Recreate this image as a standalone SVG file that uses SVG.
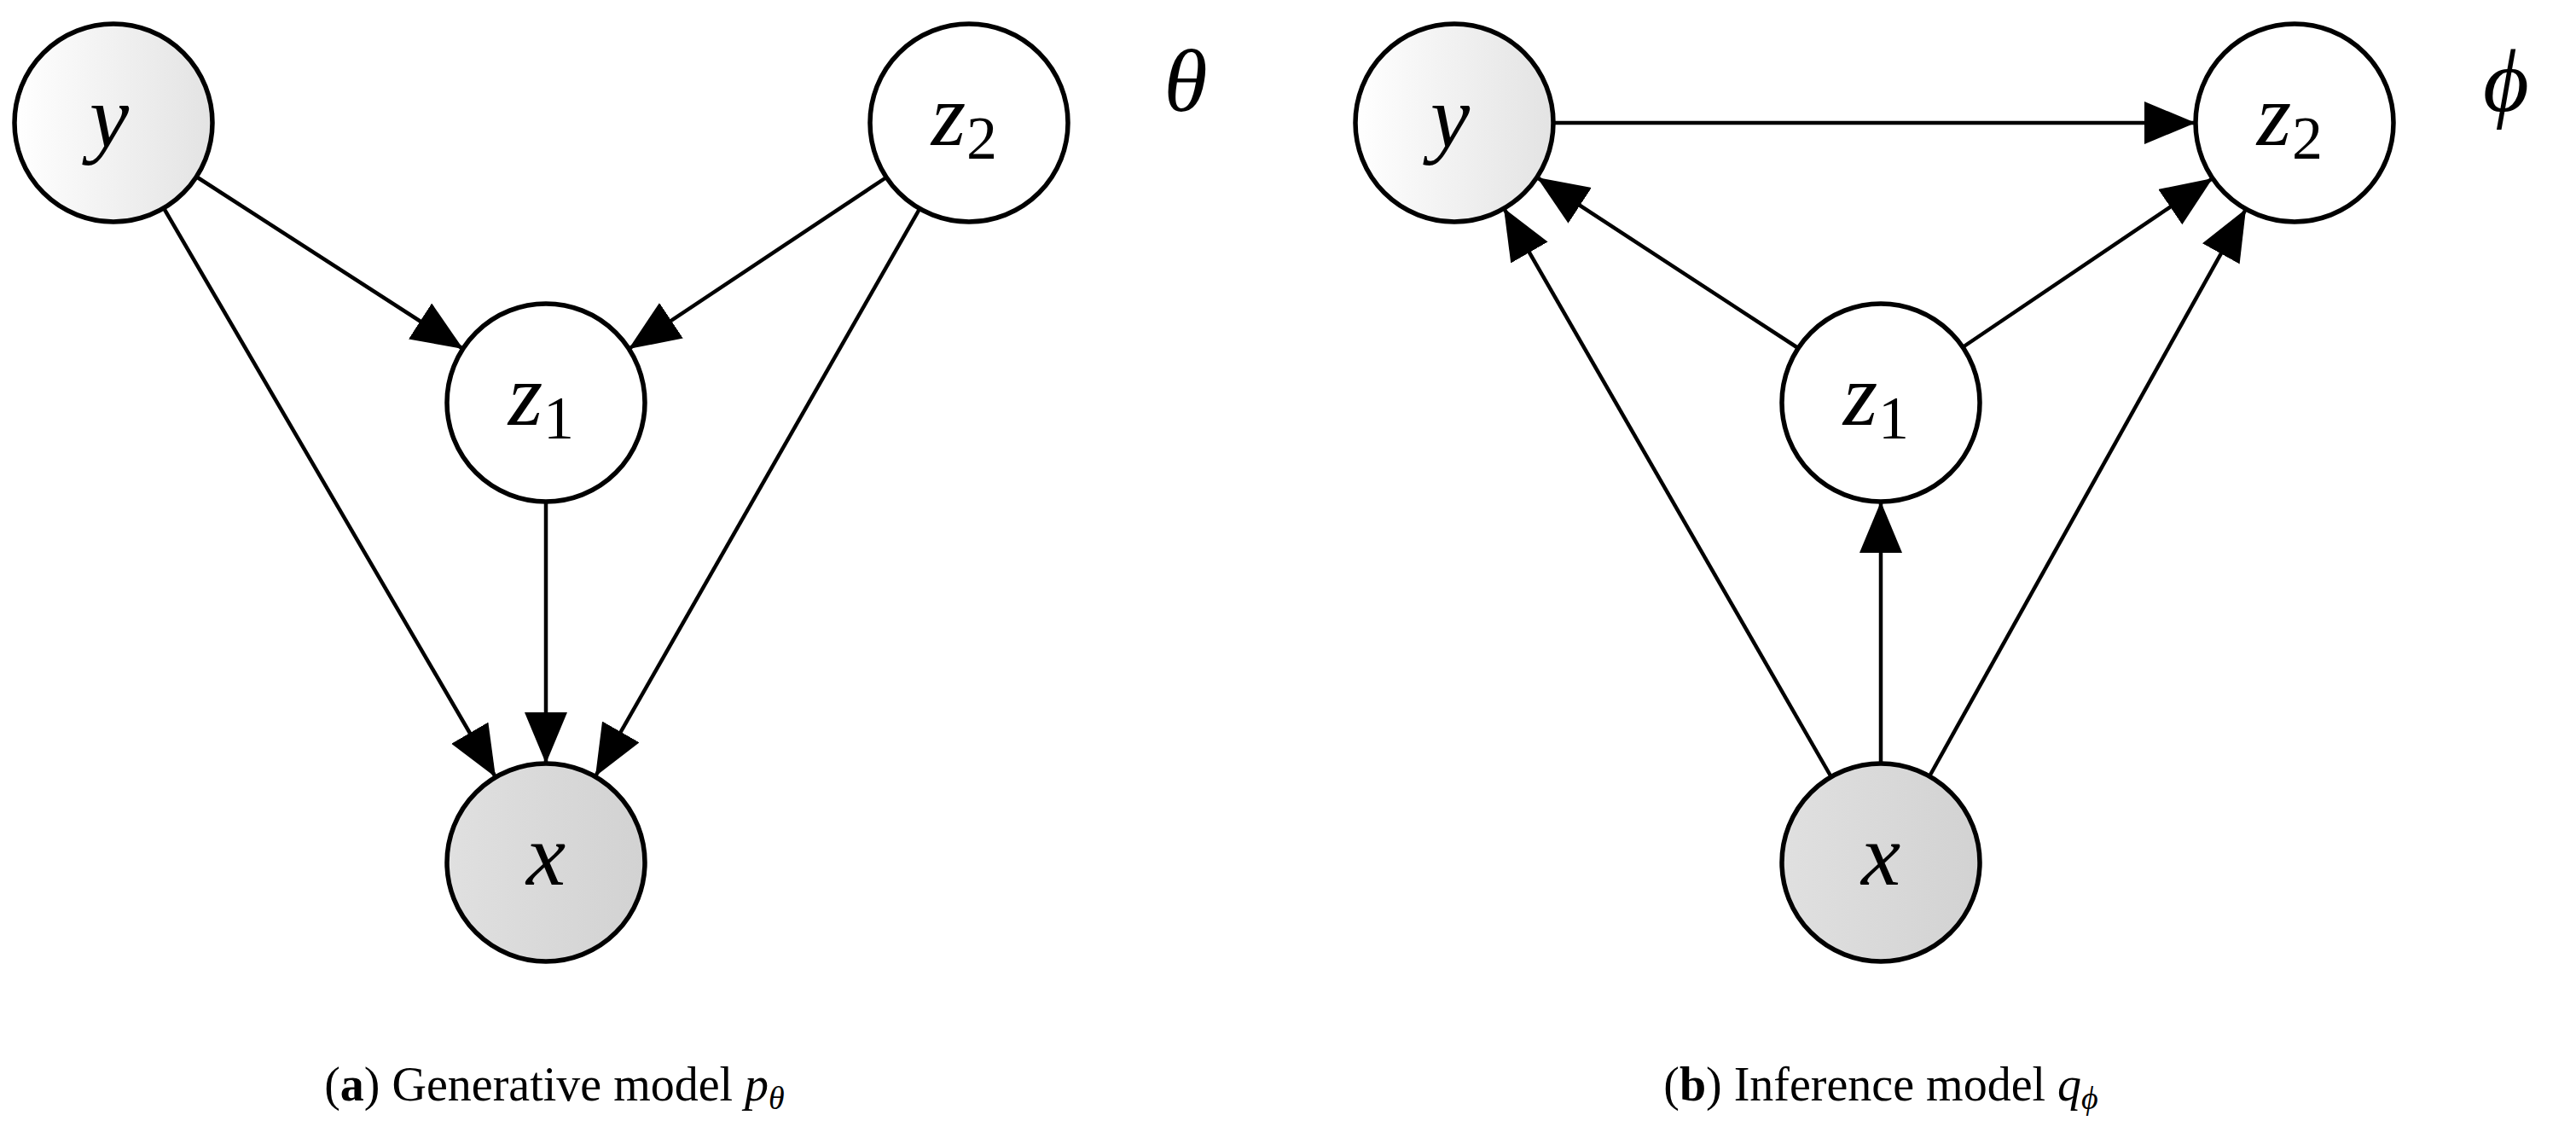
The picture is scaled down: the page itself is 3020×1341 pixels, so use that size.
<svg xmlns="http://www.w3.org/2000/svg" width="3020" height="1341" viewBox="0 0 3020 1341">
<style>
.n{stroke:#000;stroke-width:5.5}
.e{stroke:#000;stroke-width:4.5;fill:none;marker-end:url(#ah)}
.l{font-family:"Liberation Serif","DejaVu Serif",serif;font-style:italic;font-size:104px;text-anchor:middle}
.s{font-family:"Liberation Serif","DejaVu Serif",serif;font-size:72px}
.c{font-family:"Liberation Serif","DejaVu Serif",serif;font-size:56px;text-anchor:middle}
</style>
<defs>
<marker id="ah" markerUnits="userSpaceOnUse" markerWidth="64" markerHeight="54" refX="60" refY="25" orient="auto"><path d="M0,0 L60,25 L0,50 Z" fill="#000"/></marker>
<linearGradient id="gy" x1="0" x2="1"><stop offset="0" stop-color="#fff"/><stop offset="1" stop-color="#e3e3e3"/></linearGradient>
<linearGradient id="gx" x1="0" x2="1"><stop offset="0" stop-color="#e0e0e0"/><stop offset="1" stop-color="#d2d2d2"/></linearGradient>
</defs>
<g id="connectors">
<path class="e" d="M230,207 L543,409"/>
<path class="e" d="M1039,208 L737,409"/>
<path class="e" d="M192,244 L581,911"/>
<path class="e" d="M1078,245 L698,910"/>
<path class="e" d="M640,588 L640,895"/>
<path class="e" d="M1821,144 L2574,144"/>
<path class="e" d="M2108,408 L1802,208"/>
<path class="e" d="M2301,407 L2594,209"/>
<path class="e" d="M2147,911 L1763,244"/>
<path class="e" d="M2262,910 L2633,245"/>
<path class="e" d="M2205,895 L2205,588"/>
</g>
<g id="a_y"><circle class="n" cx="133" cy="144" r="116" fill="url(#gy)"/><text class="l" x="128" y="172">y</text></g>
<g id="a_z2"><circle class="n" cx="1136" cy="144" r="116" fill="#fff"/><text class="l" x="1112" y="170">z</text><text class="s" x="1133" y="186">2</text></g>
<g id="a_z1"><circle class="n" cx="640" cy="472" r="116" fill="#fff"/><text class="l" x="616" y="498">z</text><text class="s" x="637" y="514">1</text></g>
<g id="a_x"><circle class="n" cx="640" cy="1011" r="116" fill="url(#gx)"/><text class="l" x="640" y="1037">x</text></g>
<g id="theta"><text class="l" x="1390" y="130">θ</text></g>
<g id="b_y"><circle class="n" cx="1705" cy="144" r="116" fill="url(#gy)"/><text class="l" x="1700" y="172">y</text></g>
<g id="b_z2"><circle class="n" cx="2690" cy="144" r="116" fill="#fff"/><text class="l" x="2666" y="170">z</text><text class="s" x="2687" y="186">2</text></g>
<g id="b_z1"><circle class="n" cx="2205" cy="472" r="116" fill="#fff"/><text class="l" x="2181" y="498">z</text><text class="s" x="2202" y="514">1</text></g>
<g id="b_x"><circle class="n" cx="2205" cy="1011" r="116" fill="url(#gx)"/><text class="l" x="2205" y="1037">x</text></g>
<g id="phi"><text class="l" x="2938" y="130">ϕ</text></g>
<g id="captions">
<text class="c" x="650" y="1290">(<tspan font-weight="bold">a</tspan>) Generative model <tspan font-style="italic">p</tspan><tspan font-style="italic" font-size="38" dy="10">θ</tspan></text>
<text class="c" x="2205" y="1290">(<tspan font-weight="bold">b</tspan>) Inference model <tspan font-style="italic">q</tspan><tspan font-style="italic" font-size="38" dy="10">ϕ</tspan></text>
</g>
</svg>
